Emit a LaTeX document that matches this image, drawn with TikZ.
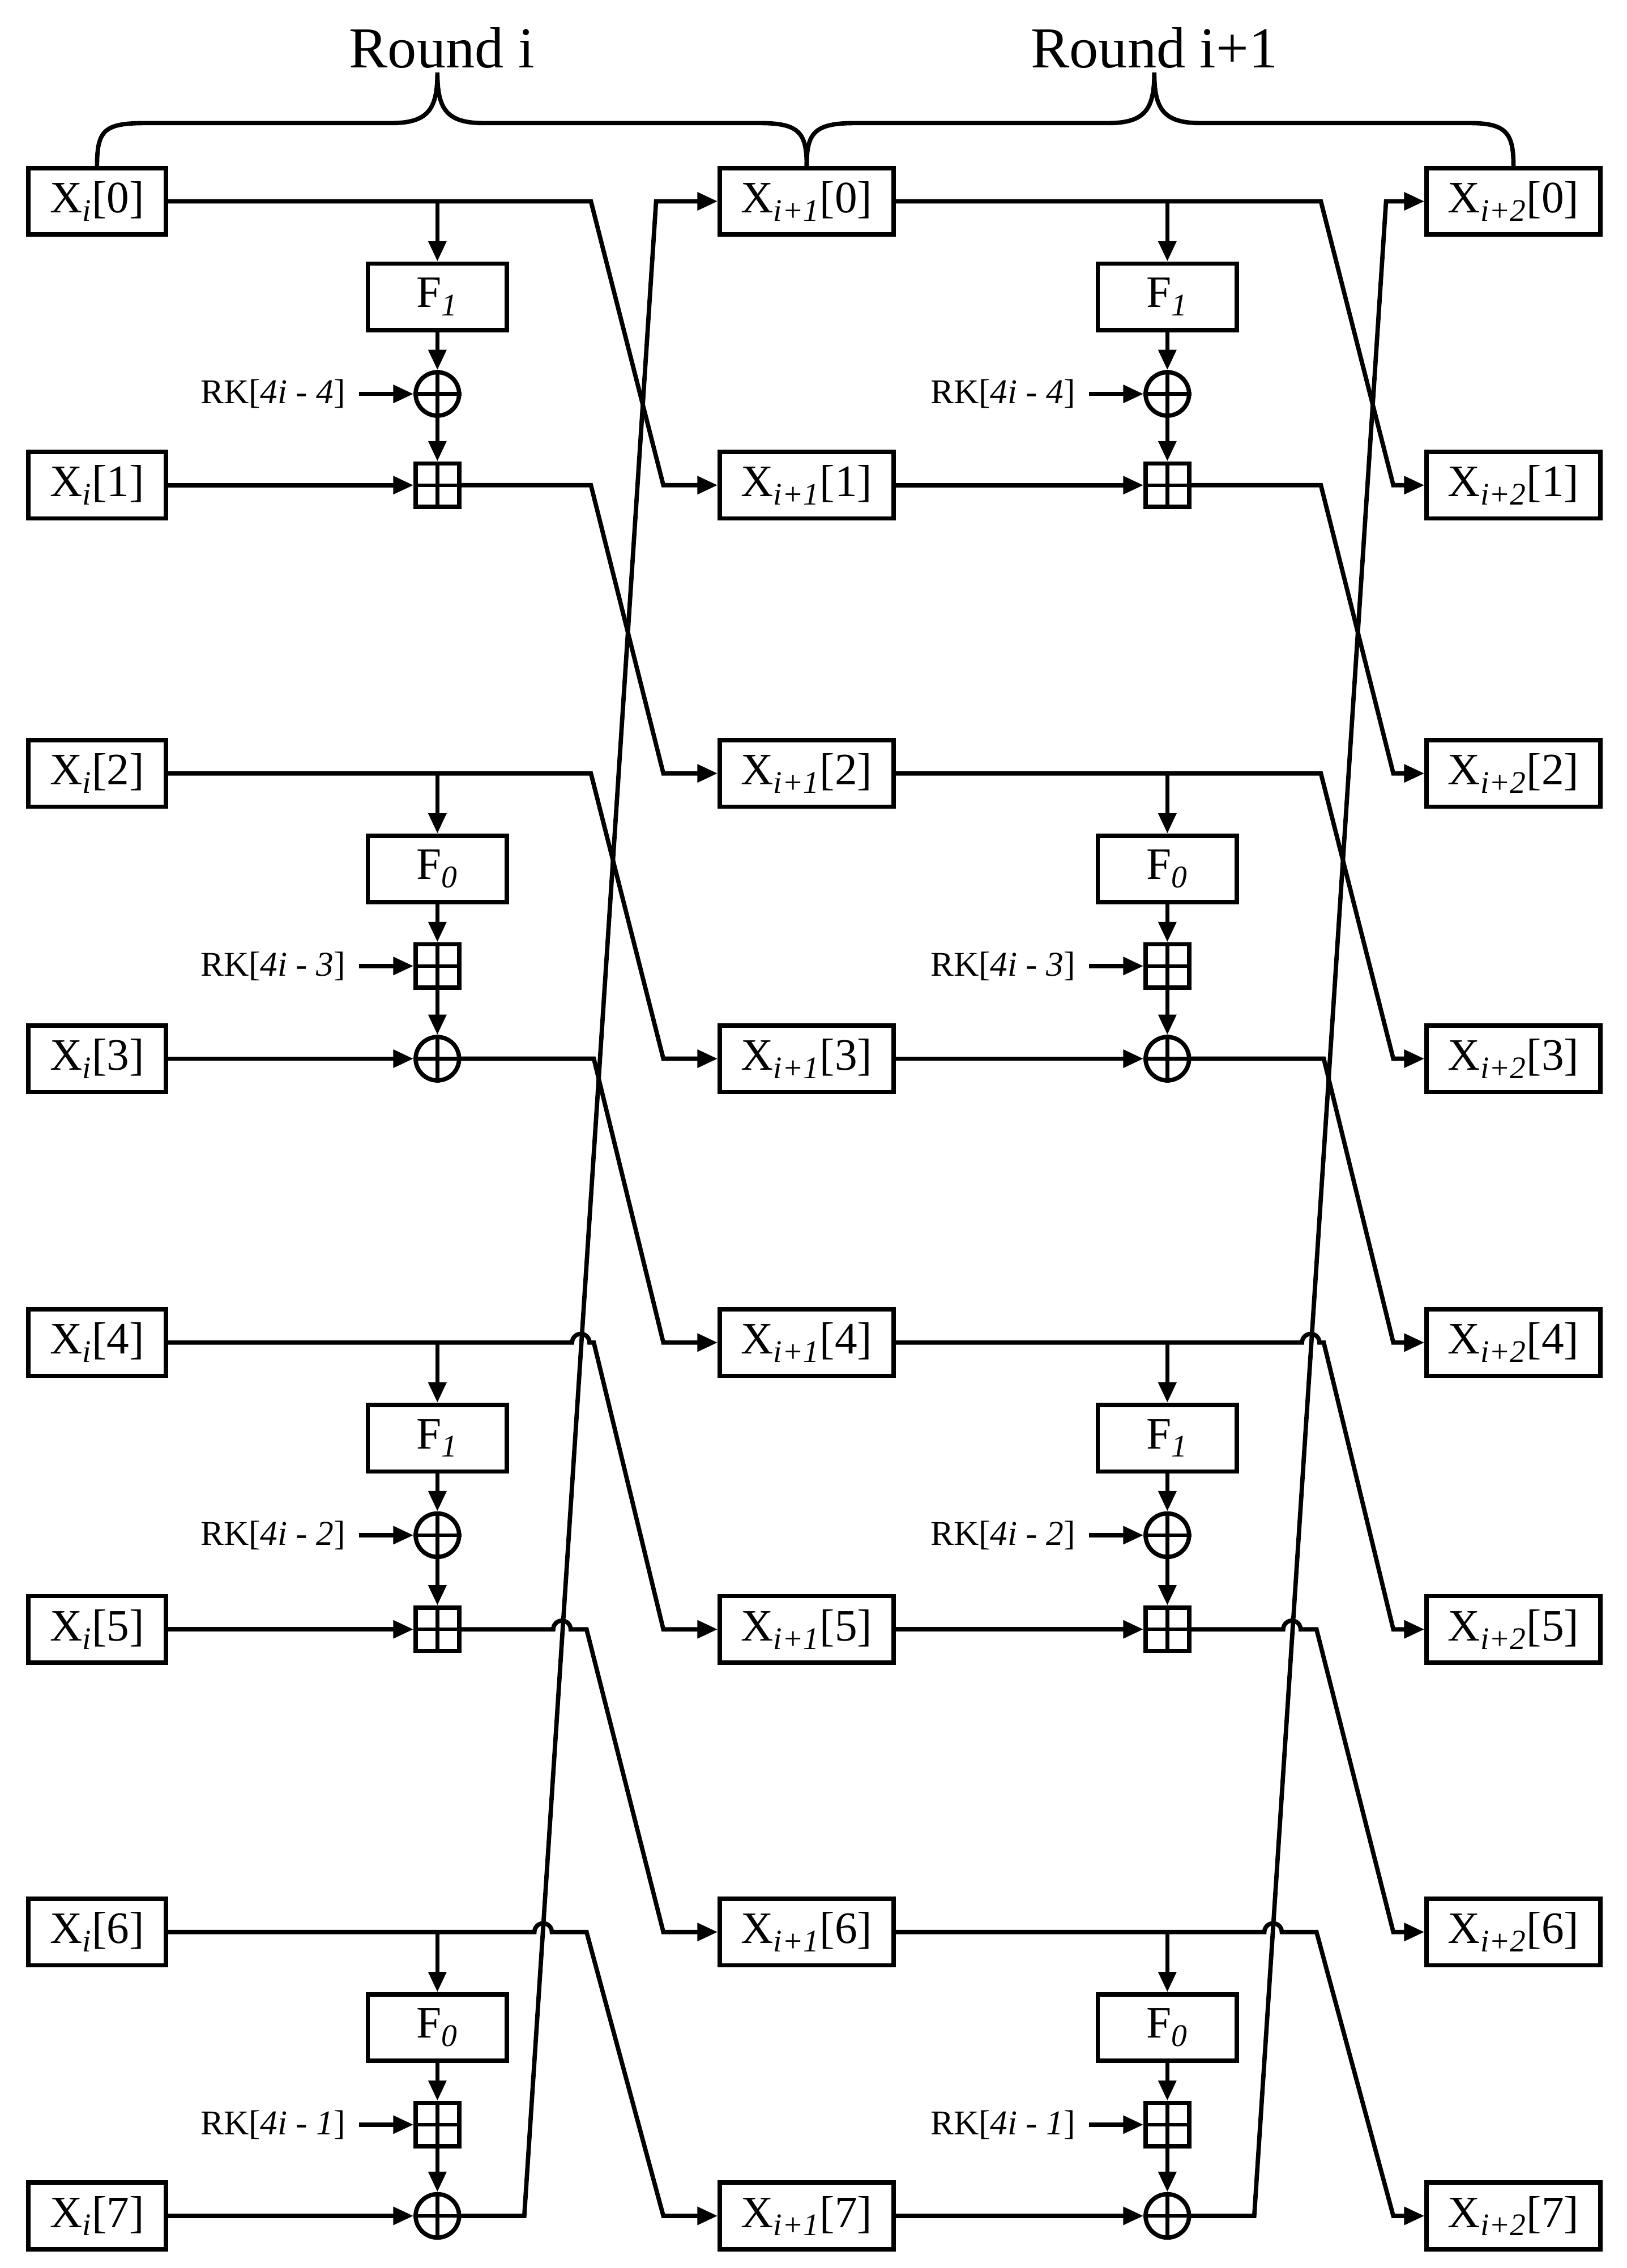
\documentclass[tikz,border=0pt]{standalone}
\usepackage{fontspec}
\setmainfont{Liberation Serif}
\usetikzlibrary{arrows.meta}
\begin{document}
\begin{tikzpicture}[x=1pt,y=-1pt,line width=3pt,
  wire/.style={line width=3pt,line join=miter},
  arr/.style={wire,-{Triangle[length=14pt,width=12pt]}},
  xbox/.style={draw,line width=3pt,minimum height=46pt,inner sep=0pt,font=\fontsize{31}{36}\selectfont},
  fbox/.style={draw,line width=3pt,minimum width=96pt,minimum height=46pt,inner sep=0pt,font=\fontsize{31}{36}\selectfont},
  xorop/.style={draw,circle,line width=3pt,minimum size=30pt,inner sep=0pt},
  addop/.style={draw,rectangle,line width=3pt,minimum size=30pt,inner sep=0pt},
  rk/.style={font=\fontsize{24}{28}\selectfont,anchor=east,inner sep=0pt}]
\useasboundingbox (0,0) rectangle (1123,1566);
\def\rows{0/139,1/335,2/534,3/731,4/927,5/1125,6/1334,7/1530}
\foreach \k/\y in \rows {
  \node[xbox,minimum width=95pt] (L\k) at (67,\y) {X\textsubscript{\textit{i}}[\k]};
  \node[xbox,minimum width=120pt] (M\k) at (557,\y) {X\textsubscript{\textit{i+1}}[\k]};
  \node[xbox,minimum width=120pt] (R\k) at (1045,\y) {X\textsubscript{\textit{i+2}}[\k]};
}
% braces
\draw[wire] (L0.north) .. controls (67,90) and (72,85) .. (100,85) -- (270,85) .. controls (296,85) and (302,75) .. (302,50)
  .. controls (302,75) and (308,85) .. (334,85) -- (525,85) .. controls (552,85) and (557,92) .. (M0.north);
\draw[wire] (M0.north) .. controls (557,92) and (562,85) .. (590,85) -- (765,85) .. controls (791,85) and (797,75) .. (797,50)
  .. controls (797,75) and (803,85) .. (829,85) -- (1015,85) .. controls (1040,85) and (1045,92) .. (R0.north);
\node[font=\fontsize{40}{46}\selectfont] (t1) at (305,33) {Round i};
\node[font=\fontsize{40}{46}\selectfont] (t2) at (797,33) {Round i+1};
\foreach \r/\S/\D in {0/L/M,1/M/R} {
 \pgfmathsetmacro{\sx}{504*\r}
 \foreach \g/\ya/\yb/\fn/\opa/\opb/\rkn/\ya/\yn in {0/139/335/1/xorop/addop/4/139/534,1/534/731/0/addop/xorop/3/534/927,2/927/1125/1/xorop/addop/2/927/1334,3/1334/1530/0/addop/xorop/1/1334/0}{
  \pgfmathtruncatemacro{\ka}{2*\g}
  \pgfmathtruncatemacro{\kb}{2*\g+1}
  \pgfmathtruncatemacro{\kc}{2*\g+2}
  \node[fbox] (F\r\g) at (302+\sx,\ya+66) {F\textsubscript{\textit{\fn}}};
  \node[\opa] (A\r\g) at (302+\sx,\ya+133) {};
  \node[\opb] (B\r\g) at (302+\sx,\yb) {};
  \draw[line width=2.5pt] (A\r\g.north) -- (A\r\g.south) (A\r\g.west) -- (A\r\g.east);
  \draw[line width=2.5pt] (B\r\g.north) -- (B\r\g.south) (B\r\g.west) -- (B\r\g.east);
  \coordinate (k\r\g) at (287+\sx-40,\ya+133);
  \node[rk] (RK\r\g) at (240+\sx,\ya+133) {RK[\textit{4i - \rkn}]};
  \draw[arr] (RK\r\g.east)++(8,0) -- (A\r\g.west);
  \draw[arr] (302+\sx,\ya) -- (F\r\g.north);
  \draw[arr] (F\r\g.south) -- (A\r\g.north);
  \draw[arr] (A\r\g.south) -- (B\r\g.north);
  \draw[arr] (\S\kb.east) -- (B\r\g.west);
 }
 % even rows
 \draw[arr] (\S0.east) -- (408+\sx,139) -- (458+\sx,335) -- (\D1.west);
 \draw[arr] (\S2.east) -- (408+\sx,534) -- (458+\sx,731) -- (\D3.west);
 \draw[arr] (\S4.east) -- (395+\sx,927) arc[start angle=180,end angle=360,radius=6] -- (410+\sx,927) -- (458+\sx,1125) -- (\D5.west);
 \draw[arr] (\S6.east) -- (369+\sx,1334) arc[start angle=180,end angle=360,radius=6] -- (405+\sx,1334) -- (458+\sx,1530) -- (\D7.west);
 % odd rows
 \draw[arr] (B\r0.east) -- (408+\sx,335) -- (458+\sx,534) -- (\D2.west);
 \draw[arr] (B\r1.east) -- (410+\sx,731) -- (458+\sx,927) -- (\D4.west);
 \draw[arr] (B\r2.east) -- (382+\sx,1125) arc[start angle=180,end angle=360,radius=6] -- (405+\sx,1125) -- (458+\sx,1334) -- (\D6.west);
 \draw[arr] (B\r3.east) -- (362+\sx,1530) -- (453+\sx,139) -- (\D0.west);
}
\end{tikzpicture}
\end{document}
